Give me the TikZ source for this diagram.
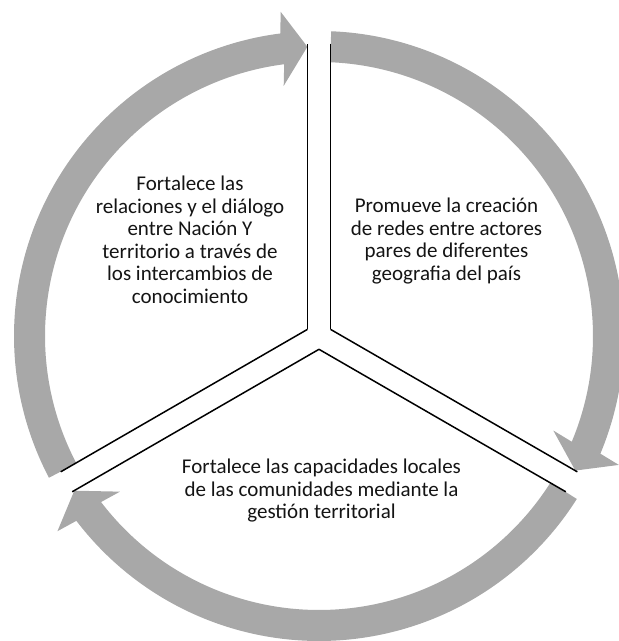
\documentclass[tikz,border=0pt]{standalone}
\usepackage{fontspec}
\setmainfont{Carlito}
\usetikzlibrary{calc}
\definecolor{ringgray}{RGB}{168, 168, 168}
\definecolor{textdark}{RGB}{20, 20, 20}

% curved cycle arrow: #1 tail angle, #2 tip angle (clockwise)
\newcommand{\cyclearrow}[2]{%
  \fill[ring] ($(ctr)+(#1:305pt)$) arc[start angle=#1, end angle=#2+5, radius=305pt]
    -- ($(ctr)+(#2+5:289.5pt)+(#2:37pt)$) -- ($(ctr)+(#2:289.5pt)$)
    -- ($(ctr)+(#2+5:289.5pt)+(#2:-37pt)$)
    -- ($(ctr)+(#2+5:274pt)$) arc[start angle=#2+5, end angle=#1, radius=274pt] -- cycle;}

\begin{document}
\begin{tikzpicture}[
    x=1pt, y=1pt,
    ring/.style={fill=ringgray},
    divider/.style={draw=black, line width=1.5pt},
    blurb/.style={align=center, text=textdark, font=\fontsize{21}{22.5}\selectfont}
]
\useasboundingbox (0, 0) rectangle (619, 641);

\coordinate (ctr) at (319, 305);

% === Cycle arrows ===
\cyclearrow{207.7}{92.3}
\cyclearrow{87.7}{-27.7}
\cyclearrow{327.7}{212.3}

% === Sector dividers ===
\coordinate (tl) at ($(ctr)+(150:13.3pt)$);
\coordinate (tr) at ($(ctr)+(30:13.3pt)$);
\coordinate (bt) at ($(ctr)+(270:13.3pt)$);

\draw[divider] (tl) -- ++(90:285pt);
\draw[divider] (tl) -- ++(210:285pt);
\draw[divider] (tr) -- ++(90:285pt);
\draw[divider] (tr) -- ++(330:285pt);
\draw[divider] (bt) -- ++(210:285pt);
\draw[divider] (bt) -- ++(330:285pt);

% === Texts ===
\node[blurb] (dialogo) at (190, 401) {Fortalece las\\relaciones y el diálogo\\entre Nación Y\\territorio a través de\\los intercambios de\\conocimiento};
\node[blurb] (redes) at (446.5, 400) {Promueve la creación\\de redes entre actores\\pares de diferentes\\geografia del país};
\node[blurb] (capacidades) at (321.5, 150) {Fortalece las capacidades locales\\de las comunidades mediante la\\gestión territorial};

\end{tikzpicture}
\end{document}
